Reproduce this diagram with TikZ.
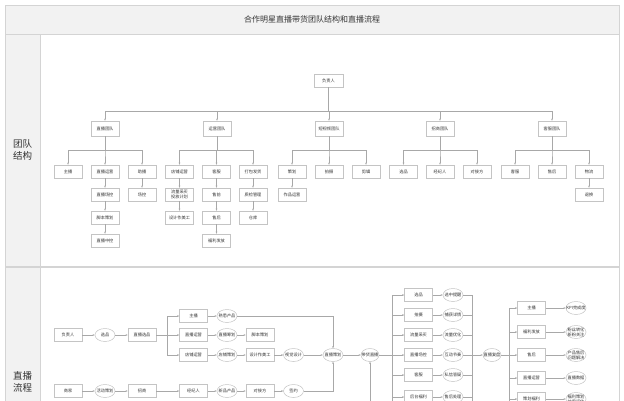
\documentclass[tikz,border=0pt]{standalone}
\usepackage{fontspec}
\setmainfont{Noto Sans CJK SC}
\usetikzlibrary{shapes.geometric,arrows.meta}
\definecolor{bandc}{HTML}{F2F2F2}
\definecolor{framec}{HTML}{D4D4D4}
\definecolor{boxc}{HTML}{C4C4C4}
\definecolor{linec}{HTML}{A8A8A8}
\definecolor{txtc}{HTML}{333333}
\tikzset{
  nf/.style={font=\fontsize{4.2}{5}\selectfont, text=txtc},
  bx/.style={draw=boxc, fill=white, line width=0.5pt, minimum width=28pt, minimum height=13pt, inner sep=0pt, align=center, nf},
  tm/.style={bx, minimum height=15pt},
  el/.style={ellipse, draw=boxc, fill=white, line width=0.5pt, minimum width=20pt, minimum height=13pt, inner xsep=-2.5pt, inner ysep=0pt, align=center, nf},
  ln/.style={draw=linec, line width=0.5pt},
  ar/.style={ln, -{Stealth[length=2.2pt,width=1.8pt]}},
}
\begin{document}
\begin{tikzpicture}[x=1pt,y=-1pt]
\useasboundingbox (0,0) rectangle (624,400);
\clip (0,0) rectangle (624,400);
% frame
\fill[bandc] (5,5) rectangle (619,34);
\fill[bandc] (5,34) rectangle (40,410);
\draw[framec, line width=0.8pt] (5,5) rectangle (619,410);
\draw[framec, line width=0.8pt] (5,34) -- (619,34);
\draw[framec, line width=0.8pt] (40,34) -- (40,410);
\draw[framec, line width=1.2pt] (5,267) -- (619,267);
\node[font=\fontsize{8}{9}\selectfont, text=txtc] (title) at (312,19.5) {合作明星直播带货团队结构和直播流程};
\node[font=\fontsize{9.5}{12}\selectfont, text=txtc, align=center] (lab1) at (22.5,150) {团队\\结构};
\node[font=\fontsize{9.5}{12}\selectfont, text=txtc, align=center] (lab2) at (22.5,382) {直播\\流程};

% ---------------- team structure ----------------
\node[bx, minimum width=29pt] (boss) at (328.5,80.5) {负责人};
\node[tm] (t1) at (105,128.5) {直播团队};
\node[tm] (t2) at (217,128.5) {运营团队};
\node[tm] (t3) at (329,128.5) {短视频团队};
\node[tm] (t4) at (440,128.5) {招商团队};
\node[tm] (t5) at (552,128.5) {客服团队};
\foreach \t in {t1,t2,t3,t4,t5}{\draw[ar] (boss.south) -- ++(0,23.5) -| (\t.north);}

% team 1
\node[bx] (a1) at (68,171.5) {主播};
\node[bx] (a2) at (105,171.5) {直播运营};
\node[bx] (a3) at (142,171.5) {助播};
\node[bx] (a21) at (105,194.5) {直播场控};
\node[bx] (a22) at (105,217.5) {脚本策划};
\node[bx] (a23) at (105,240.5) {直播中控};
\node[bx] (a31) at (142,194.5) {场控};
% team 2
\node[bx] (b1) at (179.5,171.5) {店铺运营};
\node[bx] (b2) at (216.5,171.5) {客服};
\node[bx] (b3) at (253,171.5) {打包发货};
\node[bx] (b11) at (179.5,194.5) {流量采买\\投放计划};
\node[bx] (b12) at (179.5,217.5) {设计作美工};
\node[bx] (b21) at (216.5,194.5) {售前};
\node[bx] (b22) at (216.5,217.5) {售后};
\node[bx] (b23) at (216.5,240.5) {福利发放};
\node[bx] (b31) at (253,194.5) {质检管理};
\node[bx] (b32) at (253,217.5) {仓库};
% team 3
\node[bx] (c1) at (292,171.5) {策划};
\node[bx] (c2) at (329,171.5) {拍摄};
\node[bx] (c3) at (366,171.5) {剪辑};
\node[bx] (c11) at (292,194.5) {作品运营};
% team 4
\node[bx] (d1) at (403.5,171.5) {选品};
\node[bx] (d2) at (440,171.5) {经纪人};
\node[bx] (d3) at (477,171.5) {对接方};
% team 5
\node[bx] (e1) at (515,171.5) {客服};
\node[bx] (e2) at (552,171.5) {售后};
\node[bx] (e3) at (589,171.5) {物流};
\node[bx] (e31) at (589,194.5) {退换};

\foreach \p/\c in {t1/a1,t1/a2,t1/a3,t2/b1,t2/b2,t2/b3,t3/c1,t3/c2,t3/c3,t4/d1,t4/d2,t4/d3,t5/e1,t5/e2,t5/e3}{
  \draw[ar] (\p.south) -- ++(0,14) -| (\c.north);}
\foreach \p/\c in {a2/a21,a21/a22,a22/a23,a3/a31,b1/b11,b11/b12,b2/b21,b21/b22,b22/b23,b3/b31,b31/b32,c1/c11,e3/e31}{
  \draw[ar] (\p.south) -- (\c.north);}

% ---------------- live flow ----------------
\node[bx] (p1) at (68,335) {负责人};
\node[el] (p2) at (105,335) {选品};
\node[bx] (p3) at (142,335) {直播选品};
\draw[ar] (p1) -- (p2);
\draw[ar] (p2) -- (p3);
\coordinate (sp) at (167,335);
\node[bx] (q1) at (193.5,316) {主播};
\node[bx] (q2) at (193.5,335) {直播运营};
\node[bx] (q3) at (193.5,355) {店铺运营};
\draw[ln] (p3.east) -- (sp);
\draw[ar] (sp) |- (q1.west);
\draw[ar] (sp) -- (q2.west);
\draw[ar] (sp) |- (q3.west);

\node[el] (q1e) at (227,316) {熟悉产品};
\node[el] (q2e) at (227,335) {直播筹划};
\node[bx] (q2b) at (260,335) {脚本策划};
\node[el] (q3e) at (227,355) {店铺策划};
\node[bx] (q3b) at (260,355) {设计作美工};
\node[el] (q3f) at (293.5,355) {视觉设计};
\node[el] (pl) at (333,355) {直播策划};
\node[el, minimum width=18pt] (live) at (370,355) {带货直播};
\draw[ar] (q1) -- (q1e);
\draw[ar] (q1e) -| (pl.north);
\draw[ar] (q2) -- (q2e);
\draw[ar] (q2e) -- (q2b);
\draw[ar] (q3) -- (q3e);
\draw[ar] (q3e) -- (q3b);
\draw[ar] (q3b) -- (q3f);
\draw[ar] (q3f) -- (pl);
\draw[ar] (pl) -- (live);

\node[bx] (m1) at (68,391) {商家};
\node[el] (m2) at (105,391) {活动策划};
\node[bx] (m3) at (142,391) {招商};
\node[bx] (m4) at (193.5,391) {经纪人};
\node[el] (m5) at (227,391) {新品产品};
\node[bx] (m6) at (260,391) {对接方};
\node[el] (m7) at (293.5,391) {签约};
\draw[ar] (m1) -- (m2);
\draw[ar] (m2) -- (m3);
\draw[ar] (m3) -- (m4);
\draw[ar] (m4) -- (m5);
\draw[ar] (m5) -- (m6);
\draw[ar] (m6) -- (m7);
\draw[ar] (m7) -| (pl.south);
\coordinate (lb) at (370,410);
\draw[ar] (lb) -- (live.south);

% middle fan
\coordinate (bt) at (392,295);
\coordinate (bb) at (392,410);
\draw[ln] (live.east) -- (bt|-live);
\draw[ln] (bt) -- (bb);
\node[bx] (r1) at (418.5,295) {选品};
\node[bx] (r2) at (418.5,315) {拍摄};
\node[bx] (r3) at (418.5,335) {流量采买};
\node[bx] (r4) at (418.5,355) {直播场控};
\node[bx] (r5) at (418.5,375) {客服};
\node[bx] (r6) at (418.5,397) {后台福利};
\node[el] (s1) at (453,295) {选中提醒};
\node[el] (s2) at (453,315) {捕获详情};
\node[el] (s3) at (453,335) {流量优化};
\node[el] (s4) at (453,355) {互动节奏};
\node[el] (s5) at (453,375) {私信答疑};
\node[el] (s6) at (453,397) {售后处理};
\coordinate (ct) at (472,295);
\coordinate (cb) at (472,410);
\draw[ln] (ct) -- (cb);
\foreach \i in {1,...,6}{
  \draw[ar] (bt|-r\i.west) -- (r\i.west);
  \draw[ar] (r\i) -- (s\i);
  \draw[ln] (s\i.east) -- (ct|-s\i.east);}

\node[el, minimum width=18pt] (rev) at (492,355) {直播复盘};
\draw[ar] (ct|-rev) -- (rev.west);

% right fan
\coordinate (dt) at (509,308);
\coordinate (db) at (509,410);
\draw[ln] (rev.east) -- (dt|-rev);
\draw[ln] (dt) -- (db);
\node[bx] (u1) at (531.5,308) {主播};
\node[bx] (u2) at (531.5,332) {福利发放};
\node[bx] (u3) at (531.5,355) {售后};
\node[bx] (u4) at (531.5,378) {直播运营};
\node[bx] (u5) at (531.5,399) {策划福利};
\node[el] (v1) at (576,308) {KPI完成度};
\node[el] (v2) at (576,332) {粉丝转化\\新粉关注};
\node[el] (v3) at (576,355) {产品售后\\问题解决};
\node[el] (v4) at (576,378) {直播数据};
\node[el] (v5) at (576,399) {福利策划\\效果评估};
\foreach \i in {1,...,5}{
  \draw[ar] (dt|-u\i.west) -- (u\i.west);
  \draw[ar] (u\i) -- (v\i);}
\end{tikzpicture}
\end{document}
